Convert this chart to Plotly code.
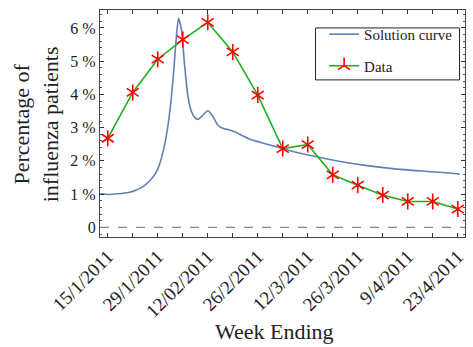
import plotly.graph_objects as go

# Data
week_labels = ["15/1/2011", "", "29/1/2011", "", "12/02/2011", "", "26/2/2011", "",
               "12/3/2011", "", "26/3/2011", "", "9/4/2011", "", "23/4/2011"]
data_weeks = list(range(15))
data_pct = [2.68, 4.06, 5.06, 5.65, 6.17, 5.28, 3.98, 2.37, 2.49, 1.58, 1.27,
            0.97, 0.78, 0.78, 0.55]

curve_weeks = [-0.29, 0.04, 0.4, 0.83, 1.1, 1.3, 1.5, 1.69, 1.89, 2.05, 2.22, 2.36, 2.49,
               2.62, 2.73, 2.83, 2.95, 3.08, 3.21, 3.35, 3.48, 3.61, 3.81, 4.01,
               4.21, 4.40, 4.60, 4.87, 5.13, 5.27, 5.66, 6.19, 6.85, 7.52, 8.84,
               10.16, 11.48, 12.80, 14.0, 14.08]
curve_pct = [1.01, 0.99, 1.01, 1.05, 1.11, 1.18, 1.28, 1.41, 1.6, 1.85, 2.3, 2.83, 3.53,
             4.53, 5.6, 6.29, 5.93, 4.83, 3.93, 3.48, 3.31, 3.25, 3.38, 3.51,
             3.33, 3.08, 2.98, 2.93, 2.86, 2.80, 2.66, 2.54, 2.40, 2.26, 2.05,
             1.88, 1.76, 1.68, 1.61, 1.60]

y_tickvals = [0, 1, 2, 3, 4, 5, 6]
y_ticktext = ["0", "1 %", "2 %", "3 %", "4 %", "5 %", "6 %"]

x_title = "Week Ending"
y_title = "Percentage of<br>influenza patients"

FONT = "Liberation Serif"
RED = "#FF0000"

fig = go.Figure()
fig.add_trace(go.Scatter(x=curve_weeks, y=curve_pct, mode="lines",
                         line=dict(color="#5E81B5", width=1.6, shape="spline", smoothing=0.6),
                         name="Solution curve", legendgroup="a"))
fig.add_trace(go.Scatter(x=data_weeks, y=data_pct, mode="lines+markers",
                         line=dict(color="#1FB01F", width=1.6),
                         marker=dict(symbol="y-up-open", size=10, color=RED,
                                     line=dict(color=RED, width=1.6)),
                         name="Data", legendgroup="b"))
fig.add_trace(go.Scatter(x=data_weeks, y=data_pct, mode="markers",
                         marker=dict(symbol="y-down-open", size=10, color=RED,
                                     line=dict(color=RED, width=1.6)),
                         showlegend=False, hoverinfo="skip", legendgroup="b"))
fig.add_hline(y=0, line=dict(color="#888888", width=1.3, dash="dash"))

# legend frame
fig.add_shape(type="rect", xref="paper", yref="paper", x0=0.5905, x1=0.985,
              y0=0.692, y1=0.921, line=dict(color="#222222", width=1),
              fillcolor="white", layer="above")

fig.add_annotation(text=x_title, xref="paper", yref="paper", x=0.478, y=-0.417,
                   xanchor="center", yanchor="middle", showarrow=False,
                   font=dict(size=22, family=FONT, color="#222222"))
fig.add_annotation(text=y_title, xref="paper", yref="paper", x=-0.173, y=0.496,
                   xanchor="center", yanchor="middle", showarrow=False, textangle=-90,
                   font=dict(size=22, family=FONT, color="#222222"))

fig.update_layout(
    width=473, height=347,
    margin=dict(l=100, r=6, t=10, b=110),
    plot_bgcolor="white", paper_bgcolor="white",
    font=dict(family=FONT, color="#222222", size=16),
    showlegend=True,
    legend=dict(x=0.614, y=0.965, xanchor="left", yanchor="top",
                bgcolor="rgba(0,0,0,0)", borderwidth=0,
                traceorder="grouped", tracegroupgap=9,
                font=dict(size=15, family=FONT)),
    xaxis=dict(range=[-0.31, 14.29], tickvals=data_weeks, ticktext=week_labels,
               tickangle=-45, ticks="inside", ticklen=4, tickcolor="#333333",
               showline=True, linecolor="#444444", linewidth=1.2, mirror="allticks",
               showgrid=False, zeroline=False, tickfont=dict(size=19)),
    yaxis=dict(range=[-0.29, 6.54], tickvals=y_tickvals, ticktext=y_ticktext,
               ticks="inside", ticklen=4, tickcolor="#333333",
               showline=True, linecolor="#444444", linewidth=1.2, mirror="allticks",
               showgrid=False, zeroline=False, tickfont=dict(size=16),
               minor=dict(tick0=0, dtick=0.2, ticks="inside", ticklen=2, tickcolor="#555555")),
)

fig.write_html("out.html")
